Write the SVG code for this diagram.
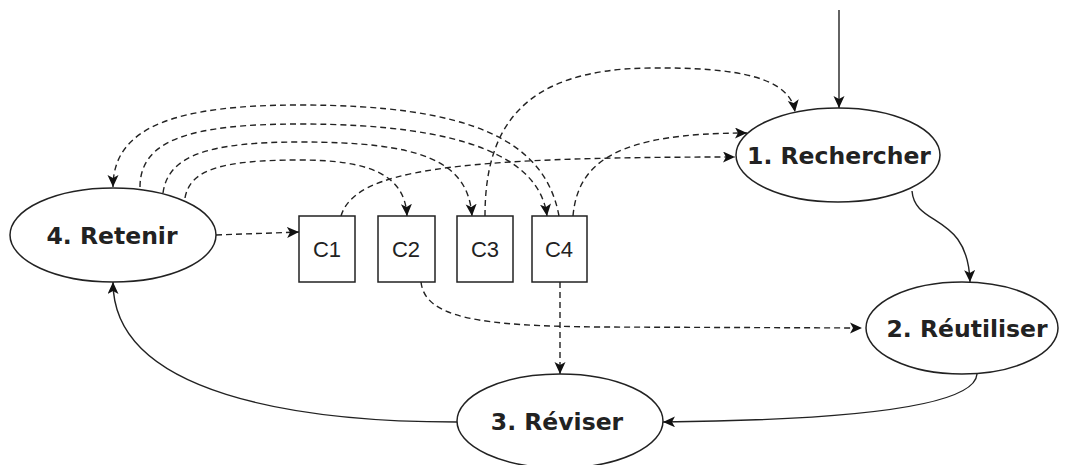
<svg xmlns="http://www.w3.org/2000/svg" width="1065" height="465" viewBox="0 0 1065 465">
<style>
.node{fill:#fff;stroke:#222;stroke-width:1.5}
.lbl{font-family:"DejaVu Sans",sans-serif;font-weight:bold;font-size:23.5px;fill:#222;text-anchor:middle}
.clbl{font-family:"Liberation Sans",Arial,sans-serif;font-size:22px;fill:#222;text-anchor:middle}
.solid{fill:none;stroke:#222;stroke-width:1.4;marker-end:url(#ah)}
.dash{fill:none;stroke:#222;stroke-width:1.4;stroke-dasharray:6 4;marker-end:url(#ah)}
</style>
<defs>
<marker id="ah" markerUnits="userSpaceOnUse" markerWidth="14" markerHeight="13" refX="12" refY="5.5" orient="auto">
<path d="M0,0 L12,5.5 L0,11 L3,5.5 z" fill="#111"/>
</marker>
</defs>
<rect width="1065" height="465" fill="#fff"/>
<g id="connectors">
<path class="solid" d="M839,10 L839,108"/>
<path class="solid" d="M912,191 C915,228 968,212 970,282"/>
<path class="solid" d="M977,374 C975,405 860,420 663,422"/>
<path class="solid" d="M457,422 C300,422 113,395 113,282"/>
<path class="dash" d="M216,235 L299,232"/>
<path class="dash" d="M560,282 L560,374"/>
<path class="dash" d="M421,282 C425,318 480,326 600,327 L862,328"/>
<path class="dash" d="M341,216 C355,170 450,157 735,157"/>
<path class="dash" d="M485,216 C485,130 520,69 650,68 C740,67 790,78 795,112"/>
<path class="dash" d="M573,216 C578,160 620,133 747,133"/>
<path class="dash" d="M559,216 C545,140 470,105 300,105 C180,105 113,125 113,187"/>
<path class="dash" d="M140,187 C140,140 190,124 300,124 C470,124 540,160 547,216"/>
<path class="dash" d="M163,193 C168,155 210,142 300,142 C420,142 468,160 472,216"/>
<path class="dash" d="M185,198 C190,170 220,160 300,160 C370,160 405,175 407,216"/>
</g>
<g id="n-retenir"><ellipse class="node" cx="113" cy="235" rx="103" ry="47"/><text class="lbl" x="112" y="244">4. Retenir</text></g>
<g id="n-rechercher"><ellipse class="node" cx="838" cy="155" rx="102" ry="47"/><text class="lbl" x="839" y="164">1. Rechercher</text></g>
<g id="n-reutiliser"><ellipse class="node" cx="962" cy="328" rx="96" ry="46"/><text class="lbl" x="967" y="337">2. Réutiliser</text></g>
<g id="n-reviser"><ellipse class="node" cx="560" cy="421" rx="103" ry="47"/><text class="lbl" x="557" y="430">3. Réviser</text></g>
<g id="c1"><rect class="node" x="299" y="216" width="56" height="66"/><text class="clbl" x="327" y="257">C1</text></g>
<g id="c2"><rect class="node" x="378" y="216" width="57" height="66"/><text class="clbl" x="406" y="257">C2</text></g>
<g id="c3"><rect class="node" x="457" y="216" width="56" height="66"/><text class="clbl" x="485" y="257">C3</text></g>
<g id="c4"><rect class="node" x="532" y="216" width="55" height="66"/><text class="clbl" x="559" y="257">C4</text></g>
</svg>
